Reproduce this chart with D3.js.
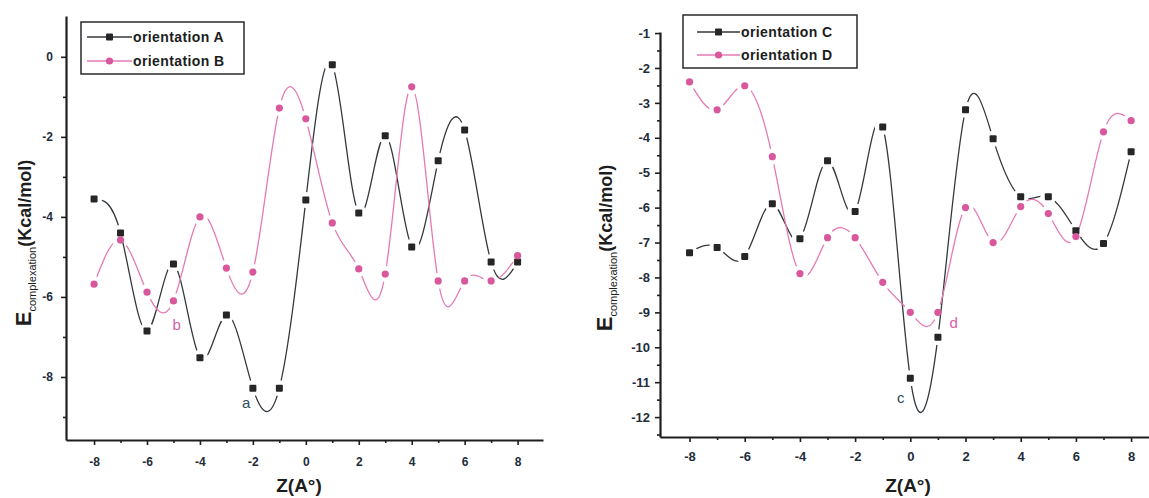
<!DOCTYPE html>
<html><head><meta charset="utf-8">
<script src="https://cdn.jsdelivr.net/npm/d3@7"></script>
<style>
body{margin:0;background:#fff}
svg{display:block}
text{font-family:"Liberation Sans",Arial,Helvetica,sans-serif}
</style>
</head><body>
<svg id="chart" width="1149" height="498"></svg>
<script>
// ---------- data ----------
const zValues = [-8,-7,-6,-5,-4,-3,-2,-1,0,1,2,3,4,5,6,7,8];
const orientationA = [-3.55,-4.40,-6.85,-5.18,-7.52,-6.45,-8.28,-8.28,-3.58,-0.20,-3.90,-1.97,-4.75,-2.60,-1.83,-5.13,-5.13];
const orientationB = [-5.68,-4.58,-5.88,-6.10,-4.00,-5.28,-5.38,-1.28,-1.55,-4.15,-5.30,-5.43,-0.75,-5.60,-5.60,-5.60,-4.97];
const orientationC = [-7.29,-7.14,-7.40,-5.89,-6.89,-4.66,-6.11,-3.69,-10.89,-9.71,-3.20,-4.03,-5.69,-5.69,-6.66,-7.03,-4.40];
const orientationD = [-2.40,-3.20,-2.51,-4.54,-7.89,-6.86,-6.86,-8.14,-9.00,-9.00,-6.00,-7.00,-5.97,-6.17,-6.83,-3.83,-3.51];
const seriesNamesLeft = ["orientation A","orientation B"];
const seriesNamesRight = ["orientation C","orientation D"];
const xTicksMajor = [-8,-6,-4,-2,0,2,4,6,8];
const xTicksMinor = [-7,-5,-3,-1,1,3,5,7];
const yTicksLeftMajor = [0,-2,-4,-6,-8];
const yTicksLeftMinor = [-1,-3,-5,-7,-9];
const yTicksRightMajor = [-1,-2,-3,-4,-5,-6,-7,-8,-9,-10,-11,-12];
const yTicksRightMinor = [-1.5,-2.5,-3.5,-4.5,-5.5,-6.5,-7.5,-8.5,-9.5,-10.5,-11.5,-12.5];
const annotLeft = [{t:"a", x:-2.25, y:-8.78, s:"dark"},{t:"b", x:-4.88, y:-6.83, s:"pink"}];
const annotRight = [{t:"c", x:-0.35, y:-11.6, s:"dark"},{t:"d", x:1.57, y:-9.45, s:"pink"}];

// ---------- styles ----------
const DARK_LINE = "#33393e", DARK_MARK = "#262626";
const PINK_LINE = "#e57ab5", PINK_MARK = "#d9579d";
const AXIS = "#1e1e1e", TICKTXT = "#1f2d3a";
const ANNOT = {dark:"#2f4a5c", pink:"#d560a5"};

const svg = d3.select("#chart");
const defs = svg.append("defs");
let clipId = 0;

function panel(cfg){
  const g = svg.append("g");
  const x = d3.scaleLinear().domain(cfg.xDomain).range(cfg.xRange);
  const y = d3.scaleLinear().domain(cfg.yDomain).range(cfg.yRange);

  // axes
  const xAx = d3.axisBottom(x).tickValues(xTicksMajor).tickSize(5).tickSizeOuter(0).tickPadding(cfg.xPad).tickFormat(d=>String(d));
  const xAxMin = d3.axisBottom(x).tickValues(xTicksMinor).tickSize(3).tickSizeOuter(0).tickFormat("");
  const yAx = d3.axisLeft(y).tickValues(cfg.yMajor).tickSize(5).tickSizeOuter(0).tickPadding(cfg.yPad).tickFormat(d=>String(d));
  const yAxMin = d3.axisLeft(y).tickValues(cfg.yMinor).tickSize(3).tickSizeOuter(0).tickFormat("");
  const gx = g.append("g").attr("transform",`translate(0,${cfg.yRange[0]})`).call(xAx);
  g.append("g").attr("transform",`translate(0,${cfg.yRange[0]})`).call(xAxMin).select(".domain").remove();
  const gy = g.append("g").attr("transform",`translate(${cfg.xRange[0]},0)`).call(yAx);
  g.append("g").attr("transform",`translate(${cfg.xRange[0]},0)`).call(yAxMin).select(".domain").remove();
  g.selectAll(".domain").attr("stroke",AXIS).attr("stroke-width",2.2);
  g.selectAll(".tick line").attr("stroke",AXIS).attr("stroke-width",1.6);
  gx.selectAll("text").attr("font-size",cfg.tickFont).attr("font-weight","bold").attr("fill",TICKTXT);
  gy.selectAll("text").attr("font-size",cfg.tickFont).attr("font-weight","bold").attr("fill",TICKTXT);

  // series (line interrupted around each symbol, as in the original)
  const line = d3.line().x((d,i)=>x(zValues[i])).y(d=>y(d)).curve(d3.curveNatural);
  const GAP = 8;
  cfg.series.forEach(s=>{
    const id = "gapclip"+(clipId++);
    let dstr = "M0,0H1149V498H0Z";
    s.values.forEach((v,i)=>{
      const cx = x(zValues[i]), cy = y(v);
      dstr += `M${cx-GAP},${cy}a${GAP},${GAP} 0 1,0 ${2*GAP},0a${GAP},${GAP} 0 1,0 ${-2*GAP},0Z`;
    });
    defs.append("clipPath").attr("id",id).append("path").attr("d",dstr).attr("clip-rule","evenodd");
    g.append("path").datum(s.values).attr("d",line).attr("fill","none")
      .attr("stroke",s.line).attr("stroke-width",1.3).attr("clip-path",`url(#${id})`);
  });
  cfg.series.forEach(s=>{
    if(s.shape==="square"){
      g.selectAll(null).data(s.values).join("rect")
        .attr("x",(d,i)=>x(zValues[i])-3.5).attr("y",d=>y(d)-3.5).attr("width",7).attr("height",7)
        .attr("rx",1).attr("fill",s.mark);
    } else {
      g.selectAll(null).data(s.values).join("circle")
        .attr("cx",(d,i)=>x(zValues[i])).attr("cy",d=>y(d)).attr("r",3.6).attr("fill",s.mark);
    }
  });

  // annotations
  cfg.annot.forEach(a=>{
    g.append("text").attr("x",x(a.x)).attr("y",y(a.y)).attr("text-anchor","middle")
      .attr("font-size",15).attr("fill",ANNOT[a.s]).text(a.t);
  });

  // legend
  const L = cfg.legend;
  g.append("rect").attr("x",L.x).attr("y",L.y).attr("width",L.w).attr("height",L.h)
    .attr("fill","#fff").attr("stroke","#2a2a2a").attr("stroke-width",1.5);
  cfg.series.forEach((s,i)=>{
    const ry = L.y + L.row0 + i*L.dy;
    g.append("line").attr("x1",L.lx0).attr("x2",L.lx1).attr("y1",ry).attr("y2",ry)
      .attr("stroke",s.line).attr("stroke-width",1.5);
    const mx = (L.lx0+L.lx1)/2;
    if(s.shape==="square") g.append("rect").attr("x",mx-3.5).attr("y",ry-3.5).attr("width",7).attr("height",7).attr("rx",1).attr("fill",s.mark);
    else g.append("circle").attr("cx",mx).attr("cy",ry).attr("r",3.6).attr("fill",s.mark);
    g.append("text").attr("x",L.lx1+1).attr("y",ry).attr("dy","0.36em")
      .attr("font-size",14).attr("font-weight","bold").attr("letter-spacing",0.4)
      .attr("fill","#1d1d1d").text(cfg.names[i]);
  });

  // axis titles
  g.append("text").attr("x",cfg.xTitle[0]).attr("y",cfg.xTitle[1]).attr("text-anchor","middle")
    .attr("font-size",19).attr("font-weight","bold").attr("fill","#1d1d1d").text("Z(A°)");
  const yt = g.append("text").attr("transform",`translate(${cfg.yTitle[0]},${cfg.yTitle[1]}) rotate(-90)`)
    .attr("text-anchor","middle").attr("fill","#1d1d1d");
  yt.append("tspan").attr("font-size",22).attr("font-weight","bold").text("E");
  yt.append("tspan").attr("font-size",11).attr("dy",5).text("complexation");
  yt.append("tspan").attr("font-size",18).attr("font-weight","bold").attr("dy",-5).text("(Kcal/mol)");
}

panel({
  xDomain:[-9.06,8.96], xRange:[66,543],
  yDomain:[-9.575,1.02], yRange:[440,16],
  yMajor:yTicksLeftMajor, yMinor:yTicksLeftMinor,
  xPad:12, yPad:8, tickFont:12,
  series:[
    {values:orientationA, shape:"square", line:DARK_LINE, mark:DARK_MARK},
    {values:orientationB, shape:"circle", line:PINK_LINE, mark:PINK_MARK}
  ],
  names:seriesNamesLeft, annot:annotLeft,
  legend:{x:81,y:22,w:163,h:52,row0:15,dy:24,lx0:87,lx1:132},
  xTitle:[299,492], yTitle:[31,243]
});

panel({
  xDomain:[-9.07,9.0], xRange:[660,1158.7],
  yDomain:[-12.57,-0.97], yRange:[437,32],
  yMajor:yTicksRightMajor, yMinor:yTicksRightMinor,
  xPad:10, yPad:5, tickFont:13,
  series:[
    {values:orientationC, shape:"square", line:DARK_LINE, mark:DARK_MARK},
    {values:orientationD, shape:"circle", line:PINK_LINE, mark:PINK_MARK}
  ],
  names:seriesNamesRight, annot:annotRight,
  legend:{x:683,y:15,w:174,h:53,row0:17,dy:23,lx0:697,lx1:740},
  xTitle:[908,492], yTitle:[612,248]
});
</script>
</body></html>
